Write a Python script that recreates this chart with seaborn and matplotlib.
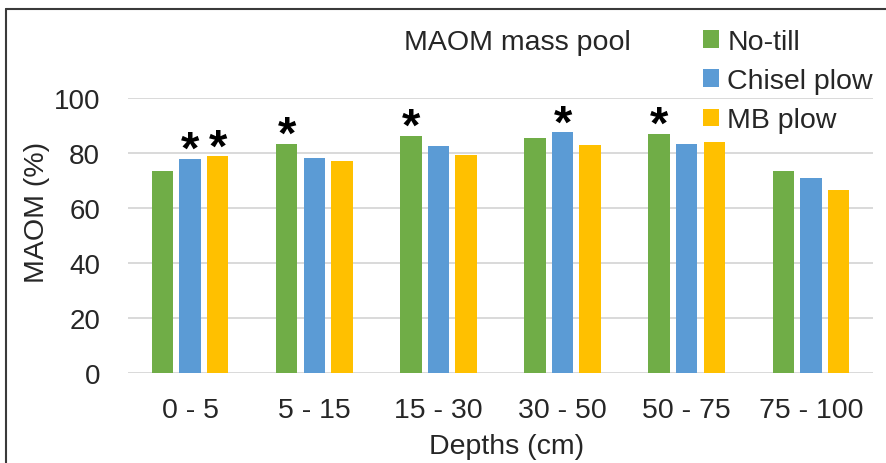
import matplotlib
matplotlib.use("Agg")
import matplotlib.pyplot as plt
from matplotlib.lines import Line2D
from matplotlib.patches import Patch
import seaborn as sns
import pandas as pd

depths = ["0 - 5", "5 - 15", "15 - 30", "30 - 50", "50 - 75", "75 - 100"]
treatments = ["No-till", "Chisel plow", "MB plow"]
no_till = [73.6, 83.4, 86.2, 85.5, 86.9, 73.5]
chisel_plow = [77.8, 78.1, 82.4, 87.6, 83.2, 70.9]
mb_plow = [78.8, 77.0, 79.3, 82.9, 84.1, 66.7]
# significance marks per treatment and depth
sig_no_till = ["", "*", "*", "", "*", ""]
sig_chisel = ["*", "", "", "*", "", ""]
sig_mb = ["*", "", "", "", "", ""]
yticks = [0, 20, 40, 60, 80, 100]
title = "MAOM mass pool"
xlabel = "Depths (cm)"
ylabel = "MAOM (%)"

colors = ["#70AD47", "#5B9BD5", "#FFC000"]

rows = []
for d, a, b, c in zip(depths, no_till, chisel_plow, mb_plow):
    rows.append({"depth": d, "treatment": treatments[0], "value": a})
    rows.append({"depth": d, "treatment": treatments[1], "value": b})
    rows.append({"depth": d, "treatment": treatments[2], "value": c})
df = pd.DataFrame(rows)

sns.set_style("white")
plt.rcParams["font.family"] = ["Liberation Sans", "DejaVu Sans"]

W, H = 887, 464
fig = plt.figure(figsize=(W / 100, H / 100), dpi=100)
ax = fig.add_axes([128 / W, (H - 374) / H, 745 / W, 275 / H])

sns.barplot(data=df, x="depth", y="value", hue="treatment", order=depths,
            hue_order=treatments, palette=colors, width=0.665, gap=0.22,
            saturation=1, ax=ax, legend=False, linewidth=0)

ax.set_ylim(0, 100)
ax.set_xlim(-0.5, len(depths) - 0.5)
ax.set_yticks(yticks)
ax.yaxis.grid(True, color="#D9D9D9", linewidth=1.4)
ax.set_axisbelow(True)
for s in ax.spines.values():
    s.set_visible(False)
ax.tick_params(axis="y", length=0, pad=20, labelsize=20)
ax.tick_params(axis="x", length=0, pad=17, labelsize=20.5)
ax.set_xlabel("")
ax.set_ylabel("")

# significance asterisks
sigs = [sig_no_till, sig_chisel, sig_mb]
for cont, sig in zip(ax.containers, sigs):
    for bar, s in zip(cont, sig):
        if s:
            ax.annotate(s, (bar.get_x() + bar.get_width() / 2, bar.get_height()),
                        xytext=(0, -3), textcoords="offset points",
                        ha="center", va="baseline", fontsize=34,
                        fontweight="bold", color="black", annotation_clip=False)

fig.text(507 / W, 1 - 447 / H, xlabel, ha="center", va="center", fontsize=20.5)
fig.text(37 / W, 1 - 212 / H, ylabel, ha="center", va="center",
         rotation=90, fontsize=20.5)
fig.text(517 / W, 1 - 43 / H, title, ha="center", va="center", fontsize=20.5)

handles = [Patch(facecolor=c, edgecolor="none") for c in colors]
fig.legend(handles, treatments, loc="upper left",
           bbox_to_anchor=(703 / W, 1 - 30 / H), frameon=False,
           fontsize=20.5, handlelength=0.55, handleheight=0.55,
           handletextpad=0.3, labelspacing=0.46, borderpad=0, borderaxespad=0)

# outer border (top and left visible)
fig.add_artist(Line2D([6 / W, 1.01], [1 - 10 / H, 1 - 10 / H],
                      transform=fig.transFigure, color="#3a3a3a", lw=1.5))
fig.add_artist(Line2D([6 / W, 6 / W], [1 - 10 / H, -0.01],
                      transform=fig.transFigure, color="#3a3a3a", lw=1.5))

fig.savefig("out.png", dpi=100)
